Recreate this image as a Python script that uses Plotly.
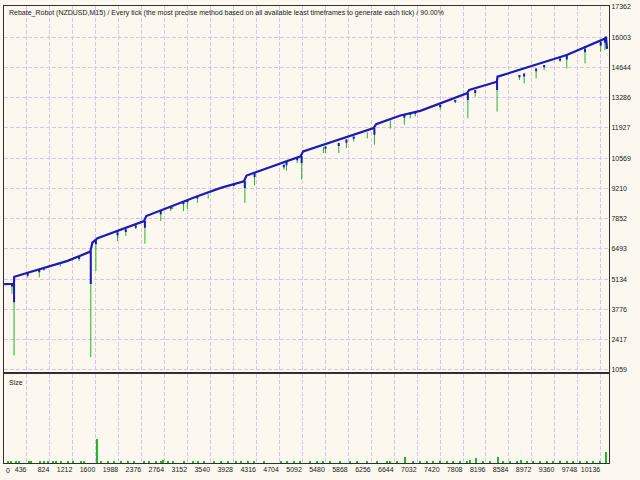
import plotly.graph_objects as go

# ---------------- data ----------------
title_text = ("Rebate_Robot (NZDUSD,M15) / Every tick (the most precise method based on all "
              "available least timeframes to generate each tick) / 90.00%")

x_tick_vals = [436, 824, 1212, 1600, 1988, 2376, 2764, 3152, 3540, 3928, 4316, 4704, 5092,
               5480, 5868, 6256, 6644, 7032, 7420, 7808, 8196, 8584, 8972, 9360, 9748, 10136]
y_tick_vals = [1059, 2417, 3776, 5134, 6493, 7852, 9210, 10569, 11927, 13286, 14644, 16003, 17362]

# balance curve (trade number, balance)
balance_idx = [50, 200, 215, 222, 617, 1123, 1508, 1542, 1629, 2416, 2453, 2698, 3091, 3317,
               3711, 4104, 4149, 5061, 5106, 6298, 6339, 6749, 7086, 7874, 7913, 8381, 8391,
               9562, 10208, 10225, 10242]
balance_val = [4911, 4924, 4924, 5237, 5537, 5953, 6369, 6772, 6969, 7743, 7967, 8222, 8638, 8861,
               9233, 9532, 9787, 10651, 10875, 11917, 12096, 12485, 12696, 13483, 13635, 14006, 14230,
               15201, 15944, 16020, 15483]

# equity drawdowns (trade number, equity before, equity low)
dip_idx = [183, 218, 448, 644, 723, 1319, 1515, 1601, 1967, 2107, 2276, 2430, 2698, 2867, 3081,
           3148, 3317, 3935, 4120, 4284, 4779, 4824, 5005, 5080, 5483, 5707, 5837, 5960, 6310, 6816,
           6917, 7001, 7423, 7677, 7890, 8014, 8384, 8762, 8841, 9044, 9179, 9449, 9562, 9871, 10136,
           10208, 5450, 6190, 6580, 3500, 2900, 1000]
dip_top = [4924, 4924, 5394, 5573, 5640, 6155, 6369, 6906, 7242, 7371, 7542, 7743, 8222, 8392, 8638,
           8705, 8861, 9421, 9532, 9890, 10271, 10396, 10575, 10651, 11098, 11246, 11412, 11546, 11917,
           12517, 12620, 12664, 12964, 13188, 13483, 13635, 14006, 14306, 14378, 14602, 14754, 15049,
           15201, 15496, 15796, 15944, 11070, 11730, 12270, 8940, 8460, 5860]
dip_low = [4477, 1703, 5206, 5206, 5506, 5953, 1627, 5506, 6848, 7072, 7385, 6727, 7743, 8190, 8190,
           8280, 8562, 9309, 8562, 9354, 10056, 10011, 10351, 9609, 10799, 10799, 11022, 11322, 11174,
           12069, 12364, 12441, 12740, 13036, 12364, 13335, 12664, 14083, 13930, 14154, 14530, 14901,
           14602, 14825, 15349, 15425, 10800, 11460, 11900, 8750, 8280, 5700]

# balance drops (trade number, balance before, balance low)
bdip_idx = [218, 1515, 2430, 4120, 5080, 6310, 7890, 8384,
            183, 448, 644, 723, 1319, 1601, 1967, 2107, 2276, 2698, 2867, 3081, 3148, 3317, 3935,
            4284, 4779, 4824, 5005, 5483, 5707, 5837, 5960, 6816, 6917, 7001, 7423, 7677, 8014,
            8762, 8841, 9044, 9179, 9449, 9562, 9871, 10136, 10208]
bdip_top = [4924, 6369, 7743, 9532, 10651, 11917, 13483, 14006,
            4924, 5394, 5573, 5640, 6155, 6906, 7242, 7371, 7542, 8222, 8392, 8638, 8705, 8861, 9421,
            9890, 10271, 10396, 10575, 11098, 11246, 11412, 11546, 12517, 12620, 12664, 12964, 13188,
            13635, 14306, 14378, 14602, 14754, 15049, 15201, 15496, 15796, 15944]
bdip_low = [4088, 4911, 7443, 9233, 10351, 11622, 13188, 13635,
            4800, 5280, 5440, 5560, 6040, 6700, 7100, 7250, 7440, 8050, 8290, 8500, 8590, 8760, 9330,
            9720, 10160, 10250, 10470, 10990, 11110, 11260, 11440, 12380, 12520, 12560, 12860, 13090,
            13500, 14200, 14240, 14470, 14650, 14950, 15000, 15330, 15620, 15750]

# lot size per trade
size_idx = [1613, 10220, 6833, 8031, 7930, 8403, 8786, 9449, 470, 2732, 3964,
            116, 166, 251, 301, 504, 656, 723, 791, 875, 926, 1010, 1128, 1213, 1348, 1398,
            1685, 1803, 1905, 2023, 2141, 2242, 2411, 2495, 2613, 2698, 2816, 2901, 3086, 3238,
            3322, 3423, 3592, 3711, 3829, 4048, 4166, 4268, 4436, 4723, 4841, 4943, 5061, 5230,
            5348, 5449, 5567, 5736, 5905, 6023, 6192, 6360, 6529, 6580, 6698, 6968, 7086, 7204,
            7305, 7423, 7541, 7642, 7761, 7879, 8149, 8266, 8486, 8604, 8722, 8891, 8993, 9111,
            9229, 9330, 9566, 9668, 9786, 9904, 10006, 10124]
size_lots = [0.27, 0.12, 0.067, 0.056, 0.034, 0.067, 0.034, 0.022, 0.022, 0.028, 0.022] + [0.011] * 79

# ---------------- styling ----------------
BLUE = "#1a1ab8"
GREEN = "#27b327"
GRID = "#d8c6e4"
BG = "#fcf8f0"
FRAME = "#303030"
FONT = "Liberation Sans"

fig = go.Figure()

gx, gy = [], []
for i, t, l in zip(dip_idx, dip_top, dip_low):
    gx += [i, i, None]
    gy += [t, l, None]
fig.add_trace(go.Scatter(x=gx, y=gy, mode="lines", line=dict(color=GREEN, width=1),
                         xaxis="x", yaxis="y", hoverinfo="skip", showlegend=False))

fig.add_trace(go.Scatter(x=balance_idx, y=balance_val, mode="lines",
                         line=dict(color=BLUE, width=2.2), xaxis="x", yaxis="y", showlegend=False))

bx, by = [], []
for i, t, l in zip(bdip_idx, bdip_top, bdip_low):
    bx += [i, i, None]
    by += [t, l, None]
fig.add_trace(go.Scatter(x=bx, y=by, mode="lines", line=dict(color=BLUE, width=2),
                         xaxis="x", yaxis="y", hoverinfo="skip", showlegend=False))

fig.add_trace(go.Bar(x=size_idx, y=size_lots, width=18, marker=dict(color=GREEN, line=dict(width=0)),
                     xaxis="x2", yaxis="y2", showlegend=False))

axis_common = dict(showline=True, mirror=True, linecolor=FRAME, linewidth=1,
                   showgrid=True, gridcolor=GRID, griddash="4px,2px", gridwidth=1,
                   zeroline=False, ticks="")
tick_font = dict(family=FONT, size=7, color="#202020")

fig.update_layout(
    width=640, height=480,
    margin=dict(l=3, r=31, t=4, b=17),
    paper_bgcolor=BG, plot_bgcolor=BG,
    bargap=0,
    xaxis=dict(domain=[0, 1], anchor="y", range=[48, 10276], tickvals=x_tick_vals,
               showticklabels=False, **axis_common),
    yaxis=dict(domain=[0.1983, 1], anchor="x", range=[942, 17407], side="right",
               tickvals=y_tick_vals, ticktext=[str(v) for v in y_tick_vals],
               tickfont=tick_font, **axis_common),
    xaxis2=dict(domain=[0, 1], anchor="y2", matches="x", range=[48, 10276], tickvals=x_tick_vals,
                ticktext=[str(v) for v in x_tick_vals], ticklabelposition="outside left",
                tickangle=0, tickfont=tick_font, **axis_common),
    yaxis2=dict(domain=[0, 0.1939], anchor="x2", range=[0, 1], side="right",
                showticklabels=False, showline=True, mirror=True, linecolor=FRAME, linewidth=1,
                showgrid=False, zeroline=False, ticks=""),
    annotations=[
        dict(text=title_text, xref="paper", yref="paper", x=0, y=1, xanchor="left", yanchor="top",
             xshift=3, yshift=-1, showarrow=False, font=dict(family=FONT, size=7, color="#202020")),
        dict(text="Size", xref="paper", yref="paper", x=0, y=0.1939, xanchor="left", yanchor="top",
             xshift=3, yshift=-3, showarrow=False, font=dict(family=FONT, size=7, color="#202020")),
        dict(text="0", xref="paper", yref="paper", x=0, y=0, xanchor="left", yanchor="top",
             xshift=0, yshift=-2, showarrow=False, font=tick_font),
    ],
)

fig.write_html("out.html", config={"displayModeBar": False},
               post_script="document.body.style.margin='0';document.body.style.overflow='hidden';")
